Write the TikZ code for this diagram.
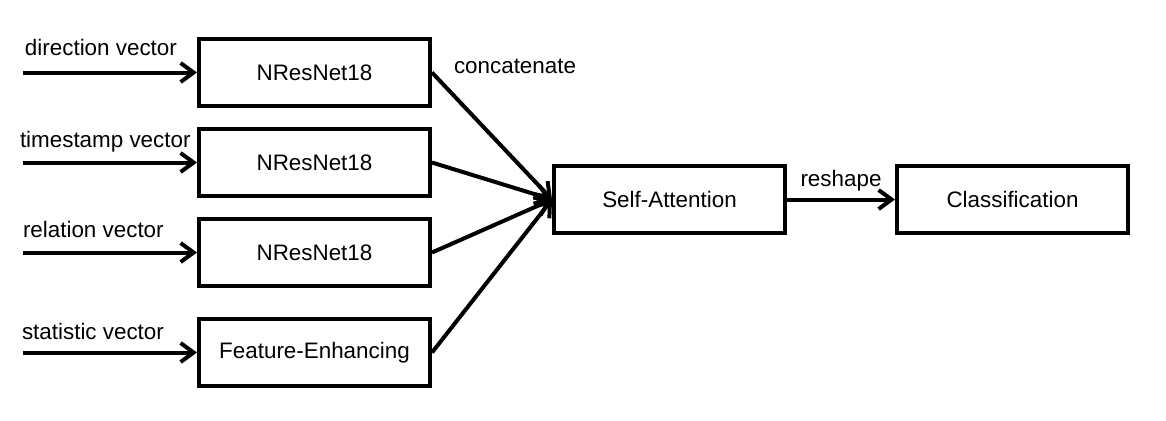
\documentclass[tikz,border=0pt]{standalone}
\usepackage{fontspec}
\setmainfont{Liberation Sans}
\usetikzlibrary{calc,arrows.meta,positioning}

\begin{document}
\begin{tikzpicture}[
  font=\fontsize{11.2}{13.4}\selectfont,
  line width=2pt,
  >={Straight Barb[length=6.5pt,width=9.5pt]},
  blk/.style={draw,minimum width=115.5pt,minimum height=33.5pt,inner sep=0pt},
  inlbl/.style={pos=0,anchor=base west,inner sep=0pt,text depth=0pt,yshift=7.5pt}
]
\useasboundingbox (0,0) rectangle (583pt,-210pt);
\node[blk] (1) at (157.25pt,-36.25pt)
{NResNet18};
\node[blk] (2) [below =9.5pt of 1]
{NResNet18};
\node[blk] (3) [below =9.5pt of 2]
{NResNet18};
\node[blk] (4) [below =14.5pt of 3]
{Feature-Enhancing};
\node[blk] (5) [below right =28pt and 60pt of 1]
{Self-Attention};
\node[blk] (6) [right =54pt of 5]
{Classification};
\node[inner sep=0pt,text depth=0pt] (7) [above right =-1.5pt and 10pt of 1.east]
{concatenate};
\coordinate[left =87pt of 1.west] (1a);
\coordinate[left =87pt of 2.west] (2a);
\coordinate[left =87pt of 3.west] (3a);
\coordinate[left =87pt of 4.west] (4a);
\draw[->] (1a) -- node[inlbl,yshift=1pt] {direction vector} (1);
\draw[->] (2a) -- node[inlbl,xshift=-2.5pt] {timestamp vector} (2);
\draw[->] (3a) -- node[inlbl,xshift=-1pt] {relation vector} (3);
\draw[->] (4a) -- node[inlbl,xshift=-1.5pt,yshift=-1pt] {statistic vector} (4);
\draw[->] (1.east) -- (5.west);
\draw[->] (2.east) -- (5.west);
\draw[->] (3.east) -- (5.west);
\draw[->] (4.east) -- (5.west);
\draw[->] (5) -- node[above] {reshape} (6);
\end{tikzpicture}
\end{document}
